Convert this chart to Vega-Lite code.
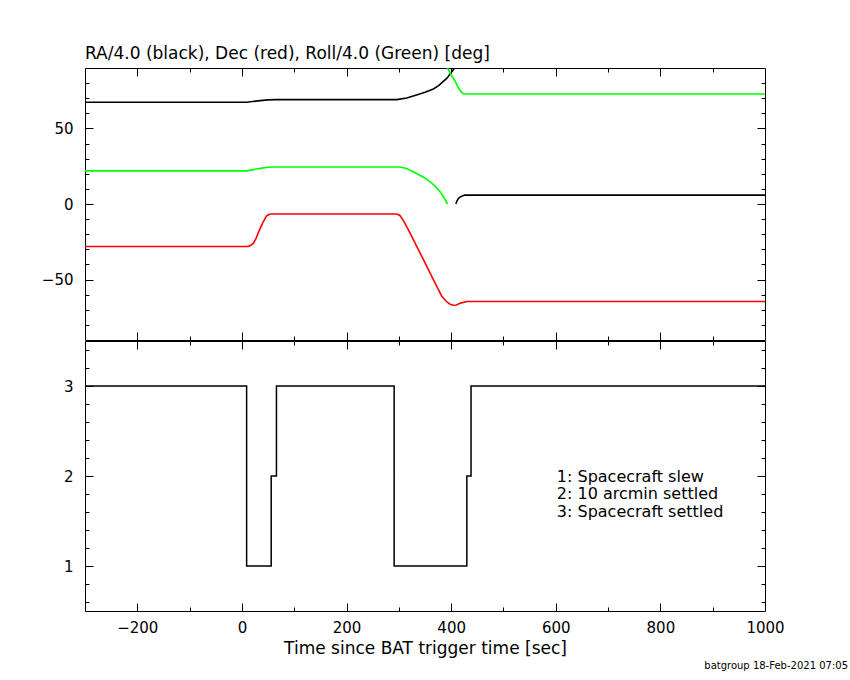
{
  "$schema": "https://vega.github.io/schema/vega-lite/v6.json",
  "background": "white",
  "padding": {"left": 4, "top": 44, "right": 85, "bottom": 0},
  "title": {
    "text": "batgroup 18-Feb-2021 07:05",
    "orient": "bottom",
    "anchor": "end",
    "frame": "group",
    "fontSize": 10,
    "dx": 83,
    "offset": 4
  },
  "datasets": {
    "angles": [
      {"t": -300, "v": 67.3, "s": "RA", "g": "RA1"},
      {"t": 9, "v": 67.3, "s": "RA", "g": "RA1"},
      {"t": 20, "v": 67.8, "s": "RA", "g": "RA1"},
      {"t": 35, "v": 68.4, "s": "RA", "g": "RA1"},
      {"t": 50, "v": 68.9, "s": "RA", "g": "RA1"},
      {"t": 66, "v": 69.1, "s": "RA", "g": "RA1"},
      {"t": 296, "v": 69.1, "s": "RA", "g": "RA1"},
      {"t": 315, "v": 70.2, "s": "RA", "g": "RA1"},
      {"t": 334, "v": 72.2, "s": "RA", "g": "RA1"},
      {"t": 350, "v": 73.9, "s": "RA", "g": "RA1"},
      {"t": 366, "v": 76.1, "s": "RA", "g": "RA1"},
      {"t": 376, "v": 78.3, "s": "RA", "g": "RA1"},
      {"t": 385, "v": 81.1, "s": "RA", "g": "RA1"},
      {"t": 392, "v": 83.3, "s": "RA", "g": "RA1"},
      {"t": 398, "v": 86.0, "s": "RA", "g": "RA1"},
      {"t": 404, "v": 88.8, "s": "RA", "g": "RA1"},
      {"t": 406, "v": 90.0, "s": "RA", "g": "RA1"},
      {"t": 409, "v": 0.0, "s": "RA", "g": "RA2"},
      {"t": 411, "v": 2.0, "s": "RA", "g": "RA2"},
      {"t": 414, "v": 3.7, "s": "RA", "g": "RA2"},
      {"t": 419, "v": 5.0, "s": "RA", "g": "RA2"},
      {"t": 426, "v": 5.9, "s": "RA", "g": "RA2"},
      {"t": 1000, "v": 5.9, "s": "RA", "g": "RA2"},
      {"t": -300, "v": 21.9, "s": "Roll", "g": "Roll1"},
      {"t": 9, "v": 21.9, "s": "Roll", "g": "Roll1"},
      {"t": 20, "v": 22.6, "s": "Roll", "g": "Roll1"},
      {"t": 35, "v": 23.6, "s": "Roll", "g": "Roll1"},
      {"t": 50, "v": 24.3, "s": "Roll", "g": "Roll1"},
      {"t": 62, "v": 24.5, "s": "Roll", "g": "Roll1"},
      {"t": 302, "v": 24.5, "s": "Roll", "g": "Roll1"},
      {"t": 315, "v": 23.5, "s": "Roll", "g": "Roll1"},
      {"t": 334, "v": 20.2, "s": "Roll", "g": "Roll1"},
      {"t": 348, "v": 17.5, "s": "Roll", "g": "Roll1"},
      {"t": 360, "v": 14.7, "s": "Roll", "g": "Roll1"},
      {"t": 370, "v": 11.5, "s": "Roll", "g": "Roll1"},
      {"t": 379, "v": 8.1, "s": "Roll", "g": "Roll1"},
      {"t": 386, "v": 4.5, "s": "Roll", "g": "Roll1"},
      {"t": 393, "v": 0.0, "s": "Roll", "g": "Roll1"},
      {"t": 393, "v": 90.0, "s": "Roll", "g": "Roll2"},
      {"t": 397, "v": 87.5, "s": "Roll", "g": "Roll2"},
      {"t": 402, "v": 84.5, "s": "Roll", "g": "Roll2"},
      {"t": 407, "v": 81.6, "s": "Roll", "g": "Roll2"},
      {"t": 412, "v": 78.0, "s": "Roll", "g": "Roll2"},
      {"t": 417, "v": 75.0, "s": "Roll", "g": "Roll2"},
      {"t": 422, "v": 73.3, "s": "Roll", "g": "Roll2"},
      {"t": 426, "v": 72.8, "s": "Roll", "g": "Roll2"},
      {"t": 1000, "v": 72.8, "s": "Roll", "g": "Roll2"},
      {"t": -300, "v": -28.1, "s": "Dec", "g": "Dec1"},
      {"t": 12, "v": -28.1, "s": "Dec", "g": "Dec1"},
      {"t": 17, "v": -27.3, "s": "Dec", "g": "Dec1"},
      {"t": 22, "v": -25.9, "s": "Dec", "g": "Dec1"},
      {"t": 27, "v": -22.8, "s": "Dec", "g": "Dec1"},
      {"t": 31, "v": -19.3, "s": "Dec", "g": "Dec1"},
      {"t": 36, "v": -15.3, "s": "Dec", "g": "Dec1"},
      {"t": 41, "v": -11.6, "s": "Dec", "g": "Dec1"},
      {"t": 47, "v": -7.9, "s": "Dec", "g": "Dec1"},
      {"t": 54, "v": -6.6, "s": "Dec", "g": "Dec1"},
      {"t": 296, "v": -6.6, "s": "Dec", "g": "Dec1"},
      {"t": 302, "v": -7.6, "s": "Dec", "g": "Dec1"},
      {"t": 308, "v": -10.5, "s": "Dec", "g": "Dec1"},
      {"t": 318, "v": -17.0, "s": "Dec", "g": "Dec1"},
      {"t": 328, "v": -23.7, "s": "Dec", "g": "Dec1"},
      {"t": 338, "v": -30.7, "s": "Dec", "g": "Dec1"},
      {"t": 347, "v": -36.8, "s": "Dec", "g": "Dec1"},
      {"t": 357, "v": -43.7, "s": "Dec", "g": "Dec1"},
      {"t": 366, "v": -50.0, "s": "Dec", "g": "Dec1"},
      {"t": 374, "v": -55.5, "s": "Dec", "g": "Dec1"},
      {"t": 382, "v": -61.0, "s": "Dec", "g": "Dec1"},
      {"t": 390, "v": -64.2, "s": "Dec", "g": "Dec1"},
      {"t": 398, "v": -66.4, "s": "Dec", "g": "Dec1"},
      {"t": 404, "v": -67.0, "s": "Dec", "g": "Dec1"},
      {"t": 410, "v": -66.8, "s": "Dec", "g": "Dec1"},
      {"t": 418, "v": -65.6, "s": "Dec", "g": "Dec1"},
      {"t": 430, "v": -64.5, "s": "Dec", "g": "Dec1"},
      {"t": 1000, "v": -64.5, "s": "Dec", "g": "Dec1"}
    ],
    "mode": [
      {"t": -300, "state": 3},
      {"t": 9, "state": 1},
      {"t": 56, "state": 2},
      {"t": 66, "state": 3},
      {"t": 291, "state": 1},
      {"t": 430, "state": 2},
      {"t": 438, "state": 3},
      {"t": 1000, "state": 3}
    ],
    "notes": [
      {"t": 602, "y": 1.994, "label": "1: Spacecraft slew"},
      {"t": 602, "y": 1.796, "label": "2: 10 arcmin settled"},
      {"t": 602, "y": 1.597, "label": "3: Spacecraft settled"}
    ]
  },
  "spacing": -2,
  "vconcat": [
    {
      "width": 680,
      "height": 272,
      "title": {
        "text": "RA/4.0 (black), Dec (red), Roll/4.0 (Green) [deg]",
        "anchor": "start",
        "frame": "group",
        "fontSize": 17,
        "offset": 5
      },
      "data": {"name": "angles"},
      "layer": [
        {
          "mark": {"type": "line", "strokeWidth": 1.6, "clip": true},
          "encoding": {
            "x": {"field": "t", "type": "quantitative", "scale": {"domain": [-300, 1000], "nice": false, "zero": false}, "axis": null},
            "y": {
              "field": "v", "type": "quantitative",
              "scale": {"domain": [-90, 90], "nice": false, "zero": false},
              "axis": {"orient": "left", "values": [-50, 0, 50], "ticks": false, "labelPadding": 12, "labelFontSize": 15, "minExtent": 80, "maxExtent": 80, "title": null}
            },
            "color": {"field": "s", "type": "nominal", "scale": {"domain": ["RA", "Dec", "Roll"], "range": ["#000000", "#ff0000", "#00ff00"]}, "legend": null},
            "detail": {"field": "g"}
          }
        },
        {
          "mark": {"type": "point", "size": 0, "strokeWidth": 0, "opacity": 0},
          "encoding": {
            "x": {"field": "t", "type": "quantitative", "scale": {"domain": [-300, 1000], "nice": false, "zero": false},
              "axis": {"orient": "bottom", "values": [-200, 0, 200, 400, 600, 800], "tickSize": -8, "labels": false, "title": null}},
            "y": {"field": "v", "type": "quantitative", "scale": {"domain": [-90, 90], "nice": false, "zero": false},
              "axis": {"orient": "left", "values": [-50, 0, 50], "tickSize": -8, "labels": false, "title": null}}
          }
        },
        {
          "mark": {"type": "point", "size": 0, "strokeWidth": 0, "opacity": 0},
          "encoding": {
            "x": {"field": "t", "type": "quantitative", "scale": {"domain": [-300, 1000], "nice": false, "zero": false},
              "axis": {"orient": "bottom", "values": [-200, -100, 0, 100, 200, 300, 400, 500, 600, 700, 800, 900], "tickSize": -4, "labels": false, "title": null}},
            "y": {"field": "v", "type": "quantitative", "scale": {"domain": [-90, 90], "nice": false, "zero": false},
              "axis": {"orient": "left", "values": [-80, -70, -60, -40, -30, -20, -10, 10, 20, 30, 40, 60, 70, 80], "tickSize": -4, "labels": false, "title": null}}
          }
        },
        {
          "mark": {"type": "point", "size": 0, "strokeWidth": 0, "opacity": 0},
          "encoding": {
            "x": {"field": "t", "type": "quantitative", "scale": {"domain": [-300, 1000], "nice": false, "zero": false},
              "axis": {"orient": "top", "values": [-200, 0, 200, 400, 600, 800], "tickSize": -8, "labels": false, "title": null}},
            "y": {"field": "v", "type": "quantitative", "scale": {"domain": [-90, 90], "nice": false, "zero": false},
              "axis": {"orient": "right", "values": [-50, 0, 50], "tickSize": -8, "labels": false, "title": null}}
          }
        },
        {
          "mark": {"type": "point", "size": 0, "strokeWidth": 0, "opacity": 0},
          "encoding": {
            "x": {"field": "t", "type": "quantitative", "scale": {"domain": [-300, 1000], "nice": false, "zero": false},
              "axis": {"orient": "top", "values": [-200, -100, 0, 100, 200, 300, 400, 500, 600, 700, 800, 900], "tickSize": -4, "labels": false, "title": null}},
            "y": {"field": "v", "type": "quantitative", "scale": {"domain": [-90, 90], "nice": false, "zero": false},
              "axis": {"orient": "right", "values": [-80, -70, -60, -40, -30, -20, -10, 10, 20, 30, 40, 60, 70, 80], "tickSize": -4, "labels": false, "title": null}}
          }
        }
      ],
      "resolve": {"axis": {"x": "independent", "y": "independent"}}
    },
    {
      "width": 680,
      "height": 270,
      "layer": [
        {
          "data": {"name": "mode"},
          "mark": {"type": "line", "interpolate": "step-after", "color": "black", "strokeWidth": 1.5},
          "encoding": {
            "x": {
              "field": "t", "type": "quantitative",
              "scale": {"domain": [-300, 1000], "nice": false, "zero": false},
              "axis": {"orient": "bottom", "values": [-200, 0, 200, 400, 600, 800, 1000], "format": "d", "ticks": false, "labelPadding": 9, "labelFontSize": 15, "labelFlush": false, "labelOverlap": false, "title": "Time since BAT trigger time [sec]", "titleFontSize": 17, "titleFontWeight": "normal", "titlePadding": 5}
            },
            "y": {
              "field": "state", "type": "quantitative",
              "scale": {"domain": [0.5, 3.5], "nice": false, "zero": false},
              "axis": {"orient": "left", "values": [1, 2, 3], "ticks": false, "labelPadding": 12, "labelFontSize": 15, "minExtent": 80, "maxExtent": 80, "title": null}
            }
          }
        },
        {
          "data": {"name": "notes"},
          "mark": {"type": "text", "align": "left", "baseline": "middle", "fontSize": 16},
          "encoding": {
            "x": {"field": "t", "type": "quantitative", "scale": {"domain": [-300, 1000], "nice": false, "zero": false}, "axis": null},
            "y": {"field": "y", "type": "quantitative", "scale": {"domain": [0.5, 3.5], "nice": false, "zero": false}, "axis": null},
            "text": {"field": "label"}
          }
        },
        {
          "data": {"name": "mode"},
          "mark": {"type": "point", "size": 0, "strokeWidth": 0, "opacity": 0},
          "encoding": {
            "x": {"field": "t", "type": "quantitative", "scale": {"domain": [-300, 1000], "nice": false, "zero": false},
              "axis": {"orient": "bottom", "values": [-200, 0, 200, 400, 600, 800], "tickSize": -8, "labels": false, "title": null}},
            "y": {"field": "state", "type": "quantitative", "scale": {"domain": [0.5, 3.5], "nice": false, "zero": false},
              "axis": {"orient": "left", "values": [1, 2, 3], "tickSize": -8, "labels": false, "title": null}}
          }
        },
        {
          "data": {"name": "mode"},
          "mark": {"type": "point", "size": 0, "strokeWidth": 0, "opacity": 0},
          "encoding": {
            "x": {"field": "t", "type": "quantitative", "scale": {"domain": [-300, 1000], "nice": false, "zero": false},
              "axis": {"orient": "bottom", "values": [-200, -100, 0, 100, 200, 300, 400, 500, 600, 700, 800, 900], "tickSize": -4, "labels": false, "title": null}},
            "y": {"field": "state", "type": "quantitative", "scale": {"domain": [0.5, 3.5], "nice": false, "zero": false},
              "axis": {"orient": "left", "values": [0.6, 0.8, 1.2, 1.4, 1.6, 1.8, 2.2, 2.4, 2.6, 2.8, 3.2, 3.4], "tickSize": -4, "labels": false, "title": null}}
          }
        },
        {
          "data": {"name": "mode"},
          "mark": {"type": "point", "size": 0, "strokeWidth": 0, "opacity": 0},
          "encoding": {
            "x": {"field": "t", "type": "quantitative", "scale": {"domain": [-300, 1000], "nice": false, "zero": false},
              "axis": {"orient": "top", "values": [-200, 0, 200, 400, 600, 800], "tickSize": -8, "labels": false, "title": null}},
            "y": {"field": "state", "type": "quantitative", "scale": {"domain": [0.5, 3.5], "nice": false, "zero": false},
              "axis": {"orient": "right", "values": [1, 2, 3], "tickSize": -8, "labels": false, "title": null}}
          }
        },
        {
          "data": {"name": "mode"},
          "mark": {"type": "point", "size": 0, "strokeWidth": 0, "opacity": 0},
          "encoding": {
            "x": {"field": "t", "type": "quantitative", "scale": {"domain": [-300, 1000], "nice": false, "zero": false},
              "axis": {"orient": "top", "values": [-200, -100, 0, 100, 200, 300, 400, 500, 600, 700, 800, 900], "tickSize": -4, "labels": false, "title": null}},
            "y": {"field": "state", "type": "quantitative", "scale": {"domain": [0.5, 3.5], "nice": false, "zero": false},
              "axis": {"orient": "right", "values": [0.6, 0.8, 1.2, 1.4, 1.6, 1.8, 2.2, 2.4, 2.6, 2.8, 3.2, 3.4], "tickSize": -4, "labels": false, "title": null}}
          }
        }
      ],
      "resolve": {"axis": {"x": "independent", "y": "independent"}}
    }
  ],
  "config": {
    "view": {"stroke": "black", "strokeWidth": 1},
    "axis": {
      "grid": false,
      "domain": false,
      "labelFont": "DejaVu Sans",
      "titleFont": "DejaVu Sans",
      "labelColor": "black",
      "titleColor": "black",
      "tickColor": "black",
      "tickWidth": 1
    },
    "title": {"font": "DejaVu Sans", "fontWeight": "normal", "color": "black"},
    "text": {"font": "DejaVu Sans", "color": "black"}
  }
}
